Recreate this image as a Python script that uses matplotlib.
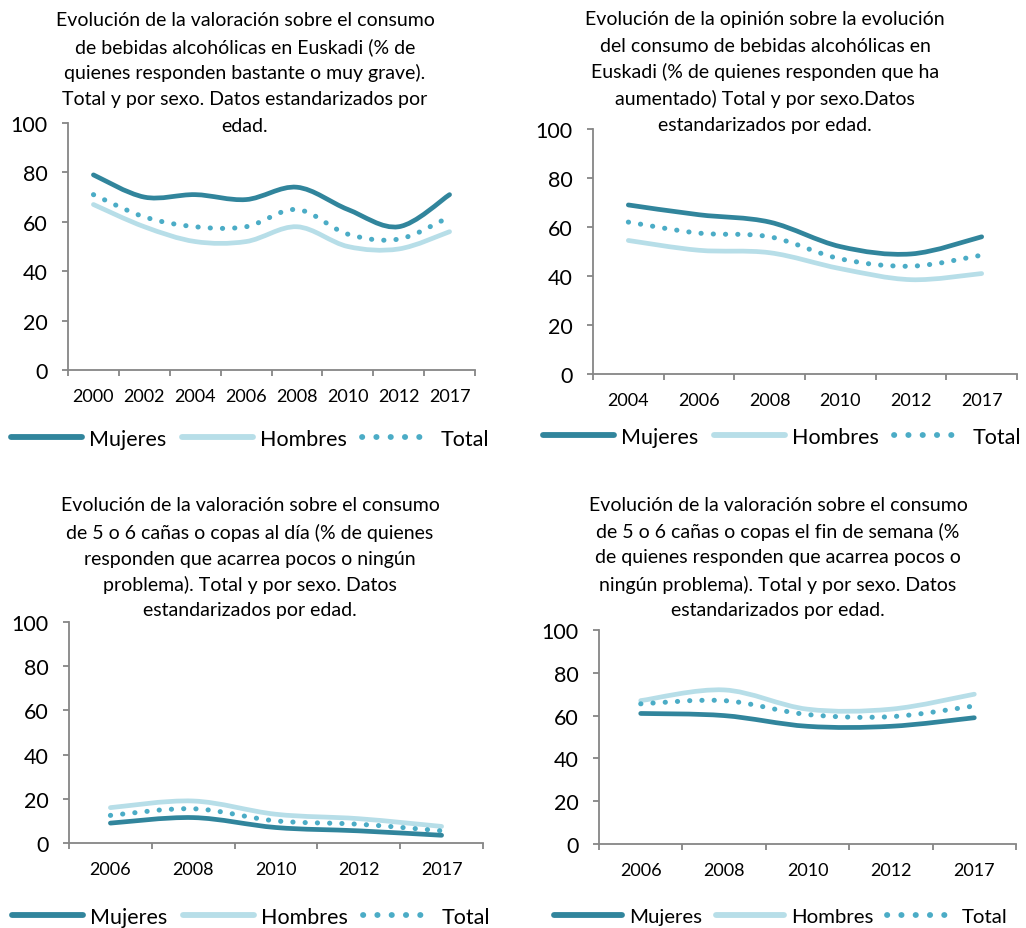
import numpy as np
import matplotlib.pyplot as plt
from matplotlib.path import Path
from matplotlib.patches import PathPatch
from matplotlib.lines import Line2D

plt.rcParams['font.family'] = ['Lato', 'DejaVu Sans']

# --- data ---
years_1 = ['2000', '2002', '2004', '2006', '2008', '2010', '2012', '2017']
mujeres_1 = [79, 70, 71, 69, 74, 65, 58, 71]
hombres_1 = [67, 58, 52, 52, 58, 50, 49, 56]
total_1 = [71, 62, 58, 58, 65, 55, 53, 62]

years_2 = ['2004', '2006', '2008', '2010', '2012', '2017']
mujeres_2 = [69, 65, 62, 52, 49, 56]
hombres_2 = [54.5, 50.5, 49.5, 43, 38.5, 41]
total_2 = [62, 57.5, 56, 47, 44, 48.5]

years_3 = ['2006', '2008', '2010', '2012', '2017']
mujeres_3 = [9, 11.5, 7, 5.5, 3.5]
hombres_3 = [16, 19, 13, 11, 7.5]
total_3 = [12.5, 15.5, 10, 8.5, 5.5]

years_4 = ['2006', '2008', '2010', '2012', '2017']
mujeres_4 = [61, 60, 55, 55, 59]
hombres_4 = [67, 72, 63, 63, 70]
total_4 = [65.5, 67, 60.5, 59.5, 64.5]

titles = [
    ["Evolución de la valoración sobre el consumo",
     "de bebidas alcohólicas en Euskadi (% de",
     "quienes responden bastante o muy grave).",
     "Total y por sexo. Datos estandarizados por",
     "edad."],
    ["Evolución de la opinión sobre la evolución",
     "del consumo de bebidas alcohólicas en",
     "Euskadi (% de quienes responden que ha",
     "aumentado) Total y por sexo.Datos",
     "estandarizados por edad."],
    ["Evolución de la valoración sobre el consumo",
     "de 5 o 6 cañas o copas al día (% de quienes",
     "responden que acarrea pocos o ningún",
     "problema). Total y por sexo. Datos",
     "estandarizados por edad."],
    ["Evolución de la valoración sobre el consumo",
     "de 5 o 6 cañas o copas el fin de semana (%",
     "de quienes responden que acarrea pocos o",
     "ningún problema). Total y por sexo. Datos",
     "estandarizados por edad."],
]

C_MUJ = '#31859C'
C_HOM = '#B7DEE8'
C_TOT = '#4BACC6'
GREY = '#868686'

W, H = 1026, 929
fig = plt.figure(figsize=(W / 100, H / 100), dpi=100)


def smooth_patch(ax, y, **kw):
    # Excel-like smoothed line: cubic bezier segments through each point
    x = np.arange(len(y), dtype=float)
    y = np.asarray(y, dtype=float)
    pts = np.column_stack([x, y])
    ext = np.vstack([pts[0], pts, pts[-1]])
    verts = [pts[0]]
    codes = [Path.MOVETO]
    for i in range(len(pts) - 1):
        p0, p1, p2, p3 = ext[i], ext[i + 1], ext[i + 2], ext[i + 3]
        verts += [p1 + (p2 - p0) / 6, p2 - (p3 - p1) / 6, p2]
        codes += [Path.CURVE4] * 3
    patch = PathPatch(Path(verts, codes), fill=False, **kw)
    patch.set_capstyle('round')
    ax.add_patch(patch)


def panel(rect, years, muj, hom, tot, title, tx, ty, leg_xy, leg_fs):
    ax = fig.add_axes(rect)
    n = len(years)
    smooth_patch(ax, hom, edgecolor=C_HOM, lw=3.4, joinstyle='round')
    smooth_patch(ax, muj, edgecolor=C_MUJ, lw=3.4, joinstyle='round')
    smooth_patch(ax, tot, edgecolor=C_TOT, lw=3.6, linestyle=(0, (0.05, 2.4)))
    ax.set_xlim(-0.5, n - 0.5)
    ax.set_ylim(0, 100)
    ax.set_yticks(range(0, 101, 20))
    ax.set_xticks(np.arange(n + 1) - 0.5)
    ax.set_xticklabels([])
    ax.set_xticks(np.arange(n), minor=True)
    ax.set_xticklabels(years, minor=True)
    ax.tick_params(axis='x', which='minor', length=0, pad=13, labelsize=13)
    ax.tick_params(axis='x', which='major', length=4.5, color=GREY, width=1.3)
    ax.tick_params(axis='y', length=4.5, color=GREY, width=1.3, pad=10, labelsize=15.5)
    for s in ['top', 'right']:
        ax.spines[s].set_visible(False)
    for s in ['left', 'bottom']:
        ax.spines[s].set_color(GREY)
        ax.spines[s].set_linewidth(1.3)
    for i, line in enumerate(title):
        fig.text(tx / W, 1 - (ty[i]) / H, line, ha='center', va='center', fontsize=14)
    handles = [
        Line2D([], [], color=C_MUJ, lw=4.2, solid_capstyle='round'),
        Line2D([], [], color=C_HOM, lw=4.2, solid_capstyle='round'),
        Line2D([], [], color=C_TOT, lw=4.2, linestyle=(0, (0.05, 2.4)), dash_capstyle='round'),
    ]
    fig.legend(handles, ['Mujeres', 'Hombres', 'Total'], loc='center',
               bbox_to_anchor=(leg_xy[0] / W, 1 - leg_xy[1] / H), ncol=3,
               frameon=False, fontsize=leg_fs, handlelength=3.3, handletextpad=0.35,
               columnspacing=0.7, borderaxespad=0, borderpad=0)
    return ax


panel([68 / W, 1 - 371 / H, 407 / W, 247 / H], years_1, mujeres_1, hombres_1, total_1,
      titles[0], 245, [20, 47, 73, 100, 126], (250, 440), 15.5)
panel([593 / W, 1 - 375 / H, 424 / W, 245 / H], years_2, mujeres_2, hombres_2, total_2,
      titles[1], 765, [20, 46, 72, 99, 126], (782, 438), 15.5)
panel([69 / W, 1 - 844 / H, 414 / W, 221 / H], years_3, mujeres_3, hombres_3, total_3,
      titles[2], 250, [506, 533, 559, 585, 611], (251, 918), 15.5)
panel([599 / W, 1 - 845 / H, 417 / W, 214 / H], years_4, mujeres_4, hombres_4, total_4,
      titles[3], 778, [506, 532, 558, 585, 611], (781, 917), 14.7)

fig.savefig('out.png', dpi=100)
